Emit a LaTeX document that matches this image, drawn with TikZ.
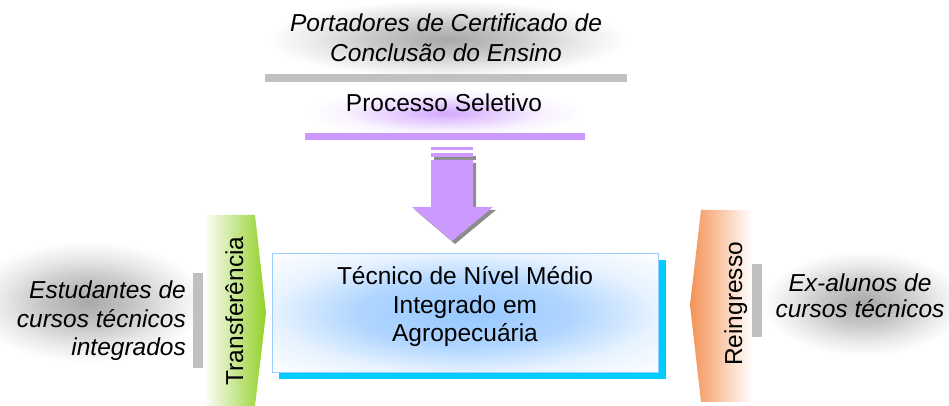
\documentclass[tikz,border=0pt]{standalone}
\usepackage{fontspec}
\setmainfont{Liberation Sans}
\usepackage{tikz}
\usetikzlibrary{positioning,shadings}

\definecolor{lilac}{RGB}{204,153,255}
\definecolor{leafgreen}{RGB}{146,208,40}
\definecolor{peach}{RGB}{244,146,86}
\definecolor{skyshadow}{RGB}{0,204,255}
\definecolor{skyline}{RGB}{153,204,255}
\definecolor{skycore}{RGB}{150,200,255}
\definecolor{bargray}{RGB}{192,192,192}

% soft glows behind the texts
\pgfdeclareradialshading{grayglow}{\pgfpointorigin}{color(0bp)=(black!34); color(10bp)=(black!22); color(18bp)=(black!9); color(25bp)=(white); color(50bp)=(white)}
\pgfdeclareradialshading{lilacglow}{\pgfpointorigin}{color(0bp)=(lilac!85); color(10bp)=(lilac!45); color(18bp)=(lilac!12); color(25bp)=(white); color(50bp)=(white)}
\pgfdeclareradialshading{boxglow}{\pgfpointorigin}{color(0bp)=(skycore); color(14bp)=(skycore!75); color(25bp)=(skycore!22); color(36bp)=(white); color(50bp)=(white)}

\begin{document}
\begin{tikzpicture}[x=1pt,y=1pt,
  txt/.style={font=\fontsize{24.5}{28.5}\selectfont, inner sep=0pt, align=center},
  itxt/.style={txt, font=\fontsize{24.5}{28.5}\selectfont\itshape},
  bar/.style={fill=bargray}]
  \useasboundingbox (0,0) rectangle (949,406);

  \shade[shading=grayglow] (267,328) rectangle (627,406);
  \shade[shading=lilacglow] (305,268) rectangle (585,318);
  \shade[shading=grayglow] (-30,43) rectangle (205,165);
  \shade[shading=grayglow] (762,50) rectangle (965,155);

  % top: who enters by selection
  \node [itxt, font=\fontsize{24.5}{30}\selectfont\itshape, anchor=base] (holders) at (446,344) {Portadores de Certificado de\\Conclusão do Ensino};
  \fill[bar] (265,324) rectangle (627,332);
  \node [txt, anchor=base] (selection) at (444,294) {Processo Seletivo};
  \fill[lilac] (305,266) rectangle (585,273);

  % down arrow with its shadow
  \begin{scope}[shift={(3,-3)}]
    \fill[black!45] (431,249) rectangle (473,253);
    \fill[black!45] (431,246) -- (473,246) -- (473,199) -- (493,199) -- (452,165) -- (412,199) -- (431,199) -- cycle;
  \end{scope}
  \fill[lilac] (431,256) rectangle (473,259);
  \fill[lilac] (431,249) rectangle (473,253);
  \fill[lilac] (431,246) -- (473,246) -- (473,199) -- (493,199) -- (452,165) -- (412,199) -- (431,199) -- cycle;

  % the course
  \fill[skyshadow] (279,27) rectangle (666,146);
  \shade[shading=boxglow, draw=skyline, line width=1pt] (272,33) rectangle (658,152);
  \node [txt, anchor=base] (course) at (465,64) {Técnico de Nível Médio\\Integrado em\\Agropecuária};

  % left: transfer
  \shade[left color=white, right color=leafgreen] (203,191) -- (255,191) -- (266,93) -- (255,0) -- (203,0) -- cycle;
  \node [txt, rotate=90, anchor=base] (transfer) at (243,95) {Transferência};
  \fill[bar] (193,38) rectangle (203,133);
  \node [itxt, align=right, anchor=base east] (students) at (186,50) {Estudantes de\\cursos técnicos\\integrados};

  % right: re-entry
  \shade[left color=peach, right color=white] (701,196) -- (752,196) -- (752,4) -- (701,4) -- (690,101) -- cycle;
  \node [txt, rotate=90, anchor=base] (reentry) at (742,102) {Reingresso};
  \fill[bar] (752,69) rectangle (762,142);
  \node [itxt, font=\fontsize{24.5}{26}\selectfont\itshape, anchor=base] (alumni) at (860,88) {Ex-alunos de\\cursos técnicos};
\end{tikzpicture}
\end{document}
